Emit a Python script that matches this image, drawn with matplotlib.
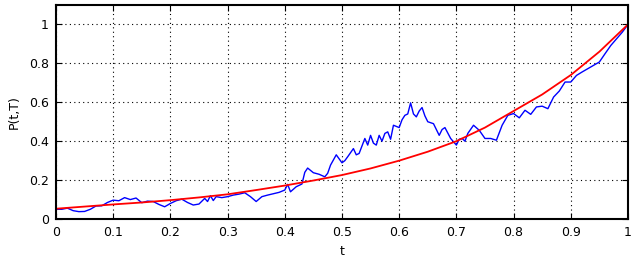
import numpy as np
import matplotlib
matplotlib.use("Agg")
import matplotlib.pyplot as plt

# =========================
# DATA
# =========================
# smooth bond price curve
t_red = [0.0, 0.05, 0.1, 0.15, 0.2, 0.25, 0.3, 0.35, 0.4, 0.45, 0.5,
         0.55, 0.6, 0.65, 0.7, 0.75, 0.8, 0.85, 0.9, 0.95, 1.0]
p_red = [0.053, 0.064, 0.075, 0.085, 0.097, 0.111, 0.127, 0.149, 0.172, 0.198, 0.226,
         0.26, 0.30, 0.346, 0.40, 0.47, 0.555, 0.64, 0.74, 0.86, 1.0]

# simulated path
t_blue = [0.0, 0.01, 0.02, 0.03, 0.04, 0.05, 0.06, 0.07, 0.08, 0.09,
          0.10, 0.11, 0.12, 0.13, 0.14, 0.15, 0.16, 0.17, 0.18, 0.19,
          0.20, 0.21, 0.22, 0.23, 0.24, 0.25, 0.26, 0.265, 0.27, 0.275, 0.28, 0.29,
          0.30, 0.31, 0.32, 0.33, 0.34, 0.35, 0.36, 0.37, 0.38, 0.39,
          0.40, 0.405, 0.41, 0.42, 0.43, 0.435, 0.44, 0.45, 0.46, 0.47, 0.475, 0.48, 0.49,
          0.50, 0.505, 0.51, 0.52, 0.525, 0.53, 0.54, 0.545, 0.55, 0.555, 0.56, 0.565, 0.57, 0.575, 0.58, 0.585, 0.59,
          0.60, 0.605, 0.61, 0.615, 0.62, 0.625, 0.63, 0.635, 0.64, 0.645, 0.65, 0.66, 0.67, 0.675, 0.68, 0.69,
          0.70, 0.705, 0.71, 0.715, 0.72, 0.73, 0.74, 0.75, 0.76, 0.77, 0.78, 0.79,
          0.80, 0.81, 0.82, 0.83, 0.84, 0.85, 0.86, 0.87, 0.88, 0.89,
          0.90, 0.91, 0.92, 0.93, 0.94, 0.95, 0.96, 0.97, 0.98, 0.99, 1.0]
p_blue = [0.050, 0.050, 0.056, 0.043, 0.038, 0.039, 0.050, 0.067, 0.068, 0.085,
          0.097, 0.094, 0.110, 0.100, 0.108, 0.084, 0.092, 0.090, 0.075, 0.063,
          0.080, 0.094, 0.102, 0.085, 0.072, 0.077, 0.106, 0.090, 0.120, 0.095, 0.115, 0.110,
          0.115, 0.123, 0.128, 0.135, 0.115, 0.090, 0.115, 0.123, 0.130, 0.137,
          0.149, 0.178, 0.140, 0.166, 0.180, 0.240, 0.262, 0.238, 0.230, 0.217, 0.235, 0.277, 0.330,
          0.289, 0.300, 0.320, 0.362, 0.330, 0.337, 0.414, 0.380, 0.430, 0.390, 0.380, 0.430, 0.400, 0.440, 0.448, 0.410, 0.482,
          0.470, 0.510, 0.533, 0.540, 0.597, 0.540, 0.525, 0.555, 0.573, 0.530, 0.500, 0.490, 0.430, 0.460, 0.470, 0.414,
          0.380, 0.410, 0.414, 0.400, 0.440, 0.482, 0.456, 0.414, 0.414, 0.405, 0.482, 0.533,
          0.542, 0.520, 0.559, 0.538, 0.576, 0.580, 0.567, 0.627, 0.658, 0.704,
          0.704, 0.738, 0.756, 0.773, 0.790, 0.807, 0.850, 0.892, 0.926, 0.960, 1.0]

x_ticks = [0, 0.1, 0.2, 0.3, 0.4, 0.5, 0.6, 0.7, 0.8, 0.9, 1]
x_labels = ["0", "0.1", "0.2", "0.3", "0.4", "0.5", "0.6", "0.7", "0.8", "0.9", "1"]
y_ticks = [0, 0.2, 0.4, 0.6, 0.8, 1]
y_labels = ["0", "0.2", "0.4", "0.6", "0.8", "1"]

# =========================
# PLOT
# =========================
fig = plt.figure(figsize=(6.31, 2.62), dpi=100)
ax = fig.add_axes([0.0887, 0.164, 0.9065, 0.817])

ax.plot(t_blue, p_blue, color="#0000ff", lw=1.0)
ax.plot(t_red, p_red, color="#ff0000", lw=1.3)

ax.set_xlim(0, 1)
ax.set_ylim(0, 1.1)
ax.set_xticks(x_ticks)
ax.set_xticklabels(x_labels)
ax.set_yticks(y_ticks)
ax.set_yticklabels(y_labels)
ax.tick_params(direction="in", top=True, right=True, length=4, labelsize=9, pad=5)
ax.grid(True, color="black", linestyle=(0, (1, 3)), lw=0.8)

for s in ax.spines.values():
    s.set_linewidth(1.5)

ax.set_xlabel("t", fontsize=9, labelpad=4)
ax.set_ylabel("P(t,T)", fontsize=9, labelpad=6)

fig.savefig("out.png", dpi=100)
